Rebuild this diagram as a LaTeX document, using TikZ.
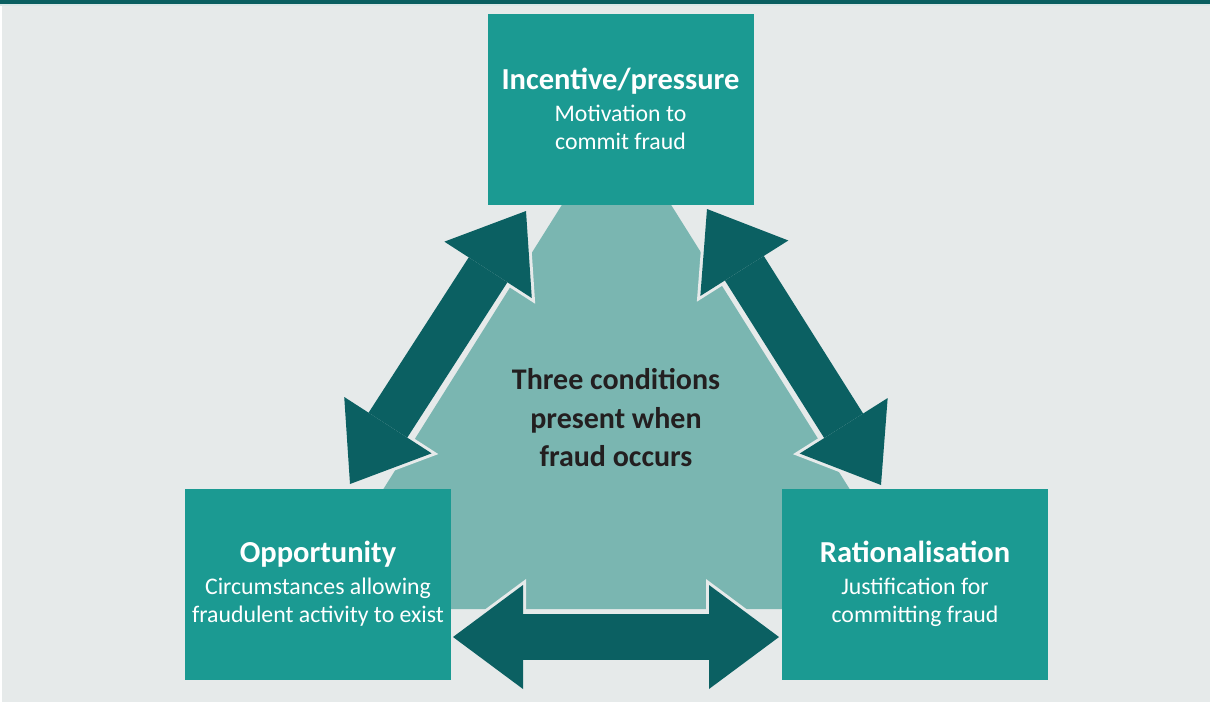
\documentclass[tikz,border=0pt]{standalone}
\usepackage{fontspec}
\setmainfont{Carlito}
\usetikzlibrary{arrows.meta}

\definecolor{bgrey}{HTML}{E6EAEA}
\definecolor{topbar}{HTML}{0A5F61}
\definecolor{darkteal}{HTML}{0B6062}
\definecolor{boxteal}{HTML}{1B9A92}
\definecolor{paleteal}{HTML}{7AB6B1}
\definecolor{textdark}{HTML}{231F20}

\newcommand{\titlefont}{\fontsize{30.5}{28}\selectfont\bfseries}
\newcommand{\subfont}{\fontsize{23.8}{28.5}\selectfont}

\tikzset{
  factor/.style={fill=boxteal, text=white, minimum width=266pt,
    minimum height=191pt, inner sep=0pt, align=center, font=\subfont},
  fathead/.tip={Triangle[width=104pt, length=70pt, line width=0pt]},
  halohead/.tip={Triangle[width=116pt, length=78pt, line width=0pt]},
  halo/.style={draw=bgrey, line width=52pt, halohead-halohead,
    shorten <=-5pt, shorten >=-5pt},
  fatarrow/.style={draw=darkteal, line width=46pt, fathead-fathead}
}

\begin{document}
\begin{tikzpicture}[x=1pt, y=-1pt]
  \useasboundingbox (0,0) rectangle (1210,702);

  % Background and top rule
  \fill[white] (0,0) rectangle (1210,702);
  \fill[bgrey] (2,5.5) rectangle (1210,702);
  \fill[topbar] (0,0) rectangle (1210,4);
  \fill[topbar!15] (0,4) rectangle (1210,5.5);

  % The fraud triangle behind everything
  \coordinate (apex) at (616.5,118);
  \coordinate (lcorner) at (308,609);
  \coordinate (rcorner) at (925,609);
  \fill[paleteal] (apex) -- (lcorner) -- (rcorner) -- cycle;

  % Arrow end points
  \coordinate (lt) at (526,211);
  \coordinate (lb) at (350,484);
  \coordinate (rt) at (707,209);
  \coordinate (rb) at (881,485);
  \coordinate (bl) at (453,637);
  \coordinate (br) at (779,637);

  % Double arrows between the conditions
  \foreach \a/\b in {lt/lb, rt/rb, bl/br} {
    \draw[halo] (\a) -- (\b);
    \draw[fatarrow] (\a) -- (\b);
  }

  % The three conditions
  \node[factor] (incentive) at (620.5,109)
    {{\titlefont Incentive/pressure}\\[3pt] Motivation to\\ commit fraud};
  \node[factor] (opportunity) at (318,584)
    {{\titlefont Opportunity}\\[3pt] Circumstances allowing\\ fraudulent activity to exist};
  \node[factor] (rationalisation) at (915,584)
    {{\titlefont Rationalisation}\\[3pt] Justification for\\ committing fraud};

  % Centre label
  \node[text=textdark, align=center, font={\fontsize{30}{38.5}\selectfont\bfseries}]
    (conditions) at (616,418) {Three conditions\\ present when\\ fraud occurs};
\end{tikzpicture}
\end{document}
